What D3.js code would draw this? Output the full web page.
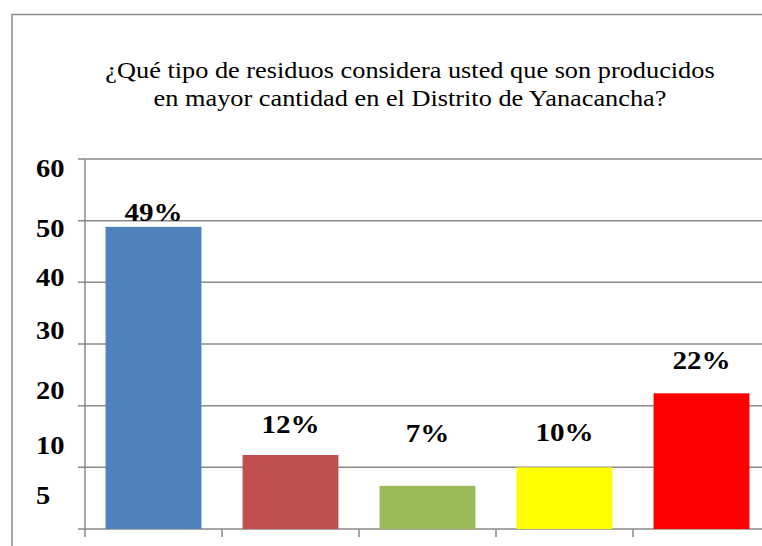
<!DOCTYPE html>
<html>
<head>
<meta charset="utf-8">
<script src="https://cdn.jsdelivr.net/npm/d3@7/dist/d3.min.js"></script>
<style>
  html, body { margin: 0; padding: 0; background: #fff; }
  svg { display: block; }
  text { font-family: "Liberation Serif", "Times New Roman", serif; fill: #000; }
</style>
</head>
<body>
<div class="chart"></div>
<script>
// chart data
var categories = ['1', '2', '3', '4', '5']
  , values = [49, 12, 7, 10, 22]
  , valueLabels = ['49%', '12%', '7%', '10%', '22%']
  , colors = ['#4F81BD', '#C0504D', '#9BBB59', '#FFFF00', '#FF0000']
  , gridValues = [0, 10, 20, 30, 40, 50, 60]
  , tickLabels = ['60', '50', '40', '30', '20', '10', '5']
  , tickLabelValues = [60, 50, 40, 30, 20, 10, 5]
  , titleLines = ['¿Qué tipo de residuos considera usted que son producidos',
                  'en mayor cantidad en el Distrito de Yanacancha?'];

// layout: the labels in the picture were nudged by hand
var tickDy = [18, 16, 4, -5, -7, -13, 6]
  , barLabelDy = [-6, -22, -44, -26, -24];

var w = 762
  , h = 546
  , plotLeft = 85
  , step = 137
  , plotTop = 159
  , plotBottom = 529
  , stretch = 1.12   // the source picture is a bit wider than tall
  , gridColor = '#898989';

var svg = d3.select('.chart')
            .append('svg')
            .attr('width', w)
            .attr('height', h);

var x = d3.scaleBand()
          .domain(categories)
          .range([plotLeft, plotLeft + step * categories.length])
          .paddingInner(0.3)
          .paddingOuter(0.15);

var y = d3.scaleLinear()
          .domain([0, 60])
          .range([plotBottom, plotTop]);

var place = function (px, py) {
  return 'translate(' + px + ',' + py + ') scale(' + stretch + ',1)';
};

// outer frame
svg.append('path')
    .attr('d', 'M12,' + h + 'V14.5H' + w)
    .attr('fill', 'none')
    .attr('stroke', '#8c8c8c')
    .attr('stroke-width', 1.5);

// title
svg.append('text')
    .attr('text-anchor', 'middle')
    .attr('font-size', 23.5)
    .attr('transform', place(410, 0))
    .selectAll('tspan')
    .data(titleLines)
    .enter()
    .append('tspan')
    .attr('x', 0)
    .attr('y', function (d, i) { return 78 + i * 28; })
    .text(function (d) { return d; });

// gridlines
svg.selectAll('line.grid')
    .data(gridValues)
    .enter()
    .append('line')
    .attr('class', 'grid')
    .attr('x1', plotLeft - 7)
    .attr('x2', w)
    .attr('y1', function (d) { return y(d); })
    .attr('y2', function (d) { return y(d); })
    .attr('stroke', gridColor)
    .attr('stroke-width', 1.5);

// y axis line
svg.append('line')
    .attr('x1', plotLeft)
    .attr('x2', plotLeft)
    .attr('y1', y(60))
    .attr('y2', plotBottom + 8)
    .attr('stroke', gridColor)
    .attr('stroke-width', 1.5);

// x ticks between categories
svg.selectAll('line.xtick')
    .data(categories.slice(1))
    .enter()
    .append('line')
    .attr('class', 'xtick')
    .attr('x1', function (d) { return x(d) - x.step() * x.paddingInner() / 2; })
    .attr('x2', function (d) { return x(d) - x.step() * x.paddingInner() / 2; })
    .attr('y1', plotBottom)
    .attr('y2', plotBottom + 8)
    .attr('stroke', gridColor)
    .attr('stroke-width', 1.5);

// bars
svg.selectAll('rect.bar')
    .data(values)
    .enter()
    .append('rect')
    .attr('class', 'bar')
    .attr('x', function (d, i) { return x(categories[i]); })
    .attr('y', function (d) { return y(d); })
    .attr('width', x.bandwidth())
    .attr('height', function (d) { return plotBottom - y(d); })
    .attr('fill', function (d, i) { return colors[i]; });

// value labels
svg.selectAll('text.val')
    .data(values)
    .enter()
    .append('text')
    .attr('class', 'val')
    .attr('text-anchor', 'middle')
    .attr('font-weight', 'bold')
    .attr('font-size', 26)
    .attr('transform', function (d, i) {
      return place(x(categories[i]) + x.bandwidth() / 2, y(d) + barLabelDy[i]);
    })
    .text(function (d, i) { return valueLabels[i]; });

// y tick labels
svg.selectAll('text.ytick')
    .data(tickLabelValues)
    .enter()
    .append('text')
    .attr('class', 'ytick')
    .attr('font-weight', 'bold')
    .attr('font-size', 25.5)
    .attr('transform', function (d, i) { return place(36, y(d) + tickDy[i]); })
    .text(function (d, i) { return tickLabels[i]; });
</script>
</body>
</html>
